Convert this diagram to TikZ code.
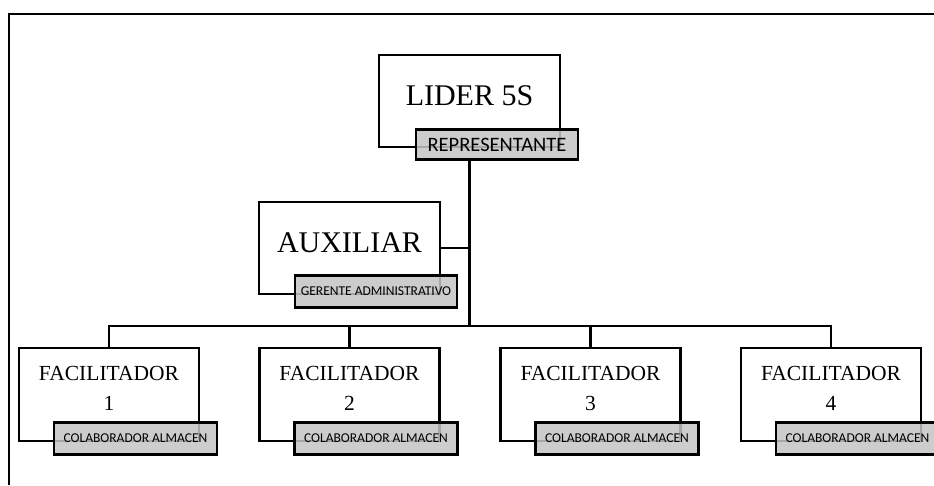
\documentclass[tikz,border=0pt]{standalone}
\usepackage{fontspec}
\setmainfont{Liberation Serif}
\newfontfamily\calibri{Carlito}
\usepackage{xcolor}
\usepackage{tikz}
\definecolor{taggray}{RGB}{196,196,196}

\begin{document}
\begin{tikzpicture}[x=1pt, y=-1pt, line width=2.6pt, every node/.style={inner sep=0pt},
    bossbox/.style={draw, rectangle, fill=white, minimum width=181pt, minimum height=92pt, font=\fontsize{30}{35}\selectfont, text height=20pt, text depth=11pt},
    facbox/.style={draw, rectangle, fill=white, minimum width=180pt, minimum height=93pt},
    factext/.style={align=center, font=\fontsize{21.5}{30}\selectfont},
    tagbox/.style={draw, rectangle, fill=taggray, fill opacity=0.85, text opacity=1, anchor=north west, minimum width=163pt, minimum height=32pt, font=\calibri\fontsize{13.5}{16}\selectfont, text height=8.7pt, text depth=0pt}]
    \useasboundingbox (0,0) rectangle (934,485);

    % Frame
    \draw[line width=1.8pt] (9,485) -- (9,14) -- (934,14);

    % Leader
    \node[bossbox] (lider) at (469.5,101) {LIDER 5S};
    \node[tagbox, minimum width=162pt, minimum height=30pt, font=\calibri\fontsize{20.5}{24}\selectfont, text height=13.2pt] (rep) at ([xshift=37pt, yshift=20pt]lider.south west) {REPRESENTANTE};

    % Assistant
    \node[bossbox] (aux) at (349.5,248) {AUXILIAR};
    \node[tagbox, minimum width=162pt] (ger) at ([xshift=36pt, yshift=21pt]aux.south west) {GERENTE ADMINISTRATIVO};

    % Facilitators
    \foreach \i/\x in {1/109, 2/349.5, 3/590.5, 4/831} {
        \node[facbox] (fac\i) at (\x,394.5) {};
        \node[factext] (ft\i) at ([yshift=6.5pt]fac\i.center) {FACILITADOR\\\i};
        \node[tagbox] (col\i) at ([xshift=35pt, yshift=21pt]fac\i.south west) {COLABORADOR ALMACEN};
    }

    % Lines
    \coordinate (bus) at (469.5,326);
    \draw (lider.south |- rep.south) -- (bus);
    \draw (aux.east) -- (aux.east -| bus);
    \draw (fac1.north) -- (fac1.north |- bus) -- (fac4.north |- bus) -- (fac4.north);
    \draw (fac2.north) -- (fac2.north |- bus);
    \draw (fac3.north) -- (fac3.north |- bus);
\end{tikzpicture}
\end{document}
